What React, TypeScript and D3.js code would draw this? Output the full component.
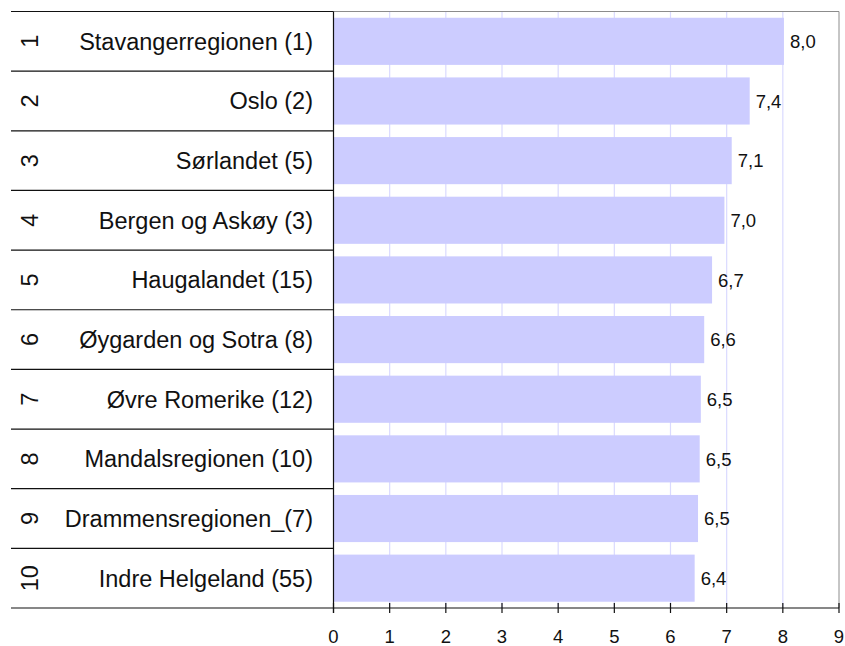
import React from "react";
import * as d3 from "d3";

const ranks = ["1", "2", "3", "4", "5", "6", "7", "8", "9", "10"];
const categories = [
  "Stavangerregionen (1)",
  "Oslo (2)",
  "Sørlandet (5)",
  "Bergen og Askøy (3)",
  "Haugalandet (15)",
  "Øygarden og Sotra (8)",
  "Øvre Romerike (12)",
  "Mandalsregionen (10)",
  "Drammensregionen_(7)",
  "Indre Helgeland (55)",
];
const values = [8.02, 7.41, 7.09, 6.96, 6.74, 6.6, 6.54, 6.52, 6.49, 6.43];
const xTicks = [0, 1, 2, 3, 4, 5, 6, 7, 8, 9];

const W = 845;
const H = 646;
const left = 333.5;
const right = 839;
const top = 11.5;
const bottom = 608;
const tableLeft = 11;
const font = "'Liberation Sans', Arial, sans-serif";

export default function App() {
  const x = d3.scaleLinear().domain([0, 9]).range([left, right]);
  const y = d3
    .scaleBand<string>()
    .domain(categories)
    .range([top, bottom])
    .paddingInner(0.21)
    .paddingOuter(0.105);
  const rows = d3
    .scaleBand<string>()
    .domain(categories)
    .range([top, bottom]);
  const fmt = (v: number) => d3.format(".1f")(v).replace(".", ",");

  return (
    <svg
      width={W}
      height={H}
      style={{ position: "absolute", left: 0, top: 0 }}
      fontFamily={font}
    >
      <rect x={0} y={0} width={W} height={H} fill="#ffffff" />
      {/* gridlines */}
      {xTicks
        .filter((t) => t > 0 && t < 9)
        .map((t) => (
          <line
            key={"g" + t}
            x1={x(t)}
            x2={x(t)}
            y1={top}
            y2={bottom}
            stroke="#dadaff"
            strokeWidth={1.2}
          />
        ))}
      {/* bars */}
      {categories.map((c, i) => (
        <rect
          key={"b" + c}
          x={x(0)}
          y={y(c)}
          width={x(values[i]) - x(0)}
          height={y.bandwidth()}
          fill="#ccccff"
        />
      ))}
      {/* value labels */}
      {categories.map((c, i) => (
        <text
          key={"v" + c}
          x={x(values[i]) + 6}
          y={(y(c) as number) + y.bandwidth() / 2}
          dy="0.36em"
          fontSize={18.5}
          fill="#111"
        >
          {fmt(values[i])}
        </text>
      ))}
      {/* frame */}
      <line x1={left} x2={right} y1={top} y2={top} stroke="#8c8c8c" strokeWidth={1} />
      <line x1={right} x2={right} y1={top} y2={bottom} stroke="#8c8c8c" strokeWidth={1} />
      <line x1={left} x2={left} y1={top} y2={bottom + 5} stroke="#111" strokeWidth={1.2} />
      <line x1={tableLeft} x2={right} y1={bottom} y2={bottom} stroke="#111" strokeWidth={1.2} />
      {/* table rows */}
      {categories.map((c) => (
        <line
          key={"r" + c}
          x1={tableLeft}
          x2={left}
          y1={rows(c)}
          y2={rows(c)}
          stroke="#111"
          strokeWidth={1.2}
        />
      ))}
      {/* x ticks */}
      {xTicks.map((t) => (
        <g key={"t" + t}>
          <line x1={x(t)} x2={x(t)} y1={bottom - 5} y2={bottom + 5} stroke="#111" strokeWidth={1.2} />
          <text x={x(t)} y={643} textAnchor="middle" fontSize={18.5} fill="#111">
            {t}
          </text>
        </g>
      ))}
      {/* category labels */}
      {categories.map((c) => (
        <text
          key={"c" + c}
          x={313}
          y={(rows(c) as number) + rows.bandwidth() / 2}
          dy="0.36em"
          textAnchor="end"
          fontSize={23.5}
          fill="#111"
        >
          {c}
        </text>
      ))}
      {/* rank numbers */}
      {categories.map((c, i) => (
        <text
          key={"k" + c}
          transform={`translate(30, ${(rows(c) as number) + rows.bandwidth() / 2}) rotate(-90)`}
          dy="0.36em"
          textAnchor="middle"
          fontSize={23.5}
          fill="#111"
        >
          {ranks[i]}
        </text>
      ))}
    </svg>
  );
}
